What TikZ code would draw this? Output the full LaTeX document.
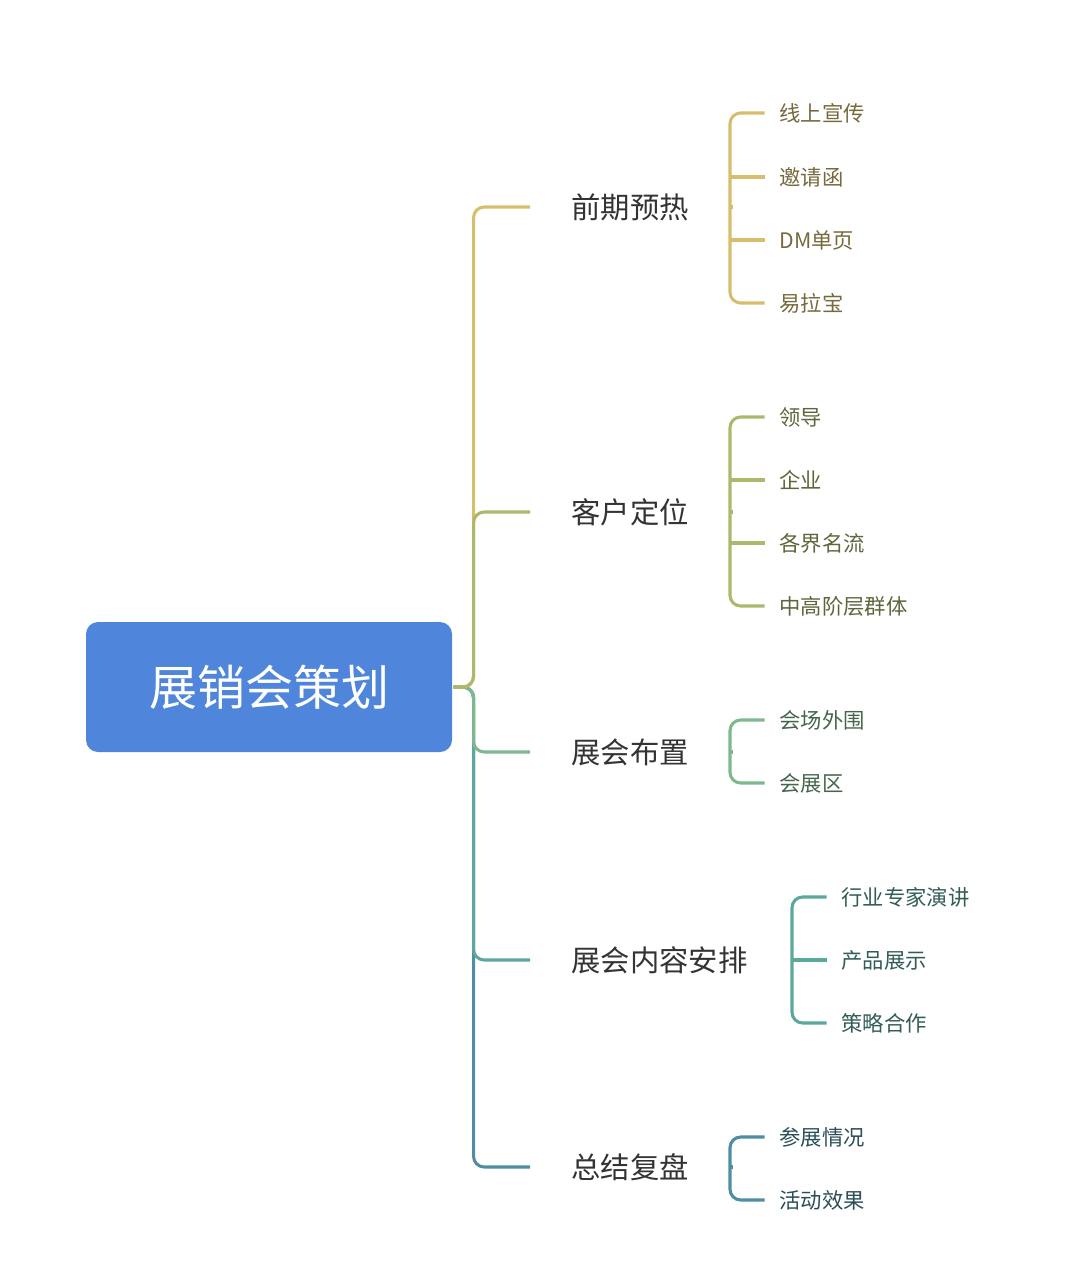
\documentclass[tikz,border=0pt]{standalone}
\usepackage{fontspec}
\setmainfont{Noto Sans CJK SC}
\usetikzlibrary{positioning}
\definecolor{rootblue}{HTML}{4F86DB}
\definecolor{cA}{HTML}{D6BE6C}
\definecolor{cB}{HTML}{AFB76C}
\definecolor{cC}{HTML}{7DB98C}
\definecolor{cD}{HTML}{5CA89C}
\definecolor{cE}{HTML}{4E8EA2}
\begin{document}
\begin{tikzpicture}[x=0.75pt,y=-0.75pt,line width=2.3pt,
  root node/.style={fill=rootblue,rounded corners=9pt,minimum width=274.5pt,minimum height=97.5pt,
    text=white,font=\fontsize{36}{40}\selectfont},
  branch node/.style={anchor=west,inner sep=0pt,text=black!80,font=\fontsize{22}{26}\selectfont},
  leaf node/.style={anchor=west,inner sep=0pt,font=\fontsize{16}{20}\selectfont},
  link/.style={rounded corners=8pt}]
  \useasboundingbox (0,0) rectangle (1080,1276);

  \node[root node] (root) at (269,687) {展销会策划};

  \node[branch node] (b1) at (570,207) {前期预热};
  \node[branch node] (b2) at (570,512) {客户定位};
  \node[branch node] (b3) at (570,752) {展会布置};
  \node[branch node] (b4) at (570,960) {展会内容安排};
  \node[branch node] (b5) at (570,1167) {总结复盘};

  \node[leaf node,text=cA!55!black] (a1) at (778,113) {线上宣传};
  \node[leaf node,text=cA!55!black] (a2) at (778,177) {邀请函};
  \node[leaf node,text=cA!55!black] (a3) at (778,240) {DM单页};
  \node[leaf node,text=cA!55!black] (a4) at (778,303) {易拉宝};

  \node[leaf node,text=cB!55!black] (k1) at (778,417) {领导};
  \node[leaf node,text=cB!55!black] (k2) at (778,480) {企业};
  \node[leaf node,text=cB!55!black] (k3) at (778,543) {各界名流};
  \node[leaf node,text=cB!55!black] (k4) at (778,606) {中高阶层群体};

  \node[leaf node,text=cC!55!black] (z1) at (778,720) {会场外围};
  \node[leaf node,text=cC!55!black] (z2) at (778,783) {会展区};

  \node[leaf node,text=cD!55!black] (n1) at (840,897) {行业专家演讲};
  \node[leaf node,text=cD!55!black] (n2) at (840,960) {产品展示};
  \node[leaf node,text=cD!55!black] (n3) at (840,1023) {策略合作};

  \node[leaf node,text=cE!55!black] (s1) at (778,1137) {参展情况};
  \node[leaf node,text=cE!55!black] (s2) at (778,1200) {活动效果};

  % trunk
  \draw[link,cE] (root.east) -- ++(20,0) |- ([xshift=-30]b5.west);
  \draw[link,cD] (root.east) -- ++(20,0) |- ([xshift=-30]b4.west);
  \draw[link,cC] (root.east) -- ++(20,0) |- ([xshift=-30]b3.west);
  \draw[link,cA] (root.east) -- ++(20,0) |- ([xshift=-30]b1.west);
  \draw[link,cB] (root.east) -- ++(20,0) |- ([xshift=-30]b2.west);

  % brackets
  \draw[cA] ([xshift=32]b1.east) -- ([xshift=-36]a1.west |- b1.east);
  \draw[link,cA] ([xshift=-10]a1.west) -- ([xshift=-36]a1.west) |- ([xshift=-10]a4.west);
  \draw[cA] ([xshift=-36]a2.west) -- ([xshift=-10]a2.west);
  \draw[cA] ([xshift=-36]a3.west) -- ([xshift=-10]a3.west);

  \draw[cB] ([xshift=32]b2.east) -- ([xshift=-36]k1.west |- b2.east);
  \draw[link,cB] ([xshift=-10]k1.west) -- ([xshift=-36]k1.west) |- ([xshift=-10]k4.west);
  \draw[cB] ([xshift=-36]k2.west) -- ([xshift=-10]k2.west);
  \draw[cB] ([xshift=-36]k3.west) -- ([xshift=-10]k3.west);

  \draw[cC] ([xshift=32]b3.east) -- ([xshift=-36]z1.west |- b3.east);
  \draw[link,cC] ([xshift=-10]z1.west) -- ([xshift=-36]z1.west) |- ([xshift=-10]z2.west);

  \draw[cD] ([xshift=32]b4.east) -- ([xshift=-36]n1.west |- b4.east);
  \draw[link,cD] ([xshift=-10]n1.west) -- ([xshift=-36]n1.west) |- ([xshift=-10]n3.west);
  \draw[cD] ([xshift=-36]n2.west) -- ([xshift=-10]n2.west);

  \draw[cE] ([xshift=32]b5.east) -- ([xshift=-36]s1.west |- b5.east);
  \draw[link,cE] ([xshift=-10]s1.west) -- ([xshift=-36]s1.west) |- ([xshift=-10]s2.west);
\end{tikzpicture}
\end{document}
